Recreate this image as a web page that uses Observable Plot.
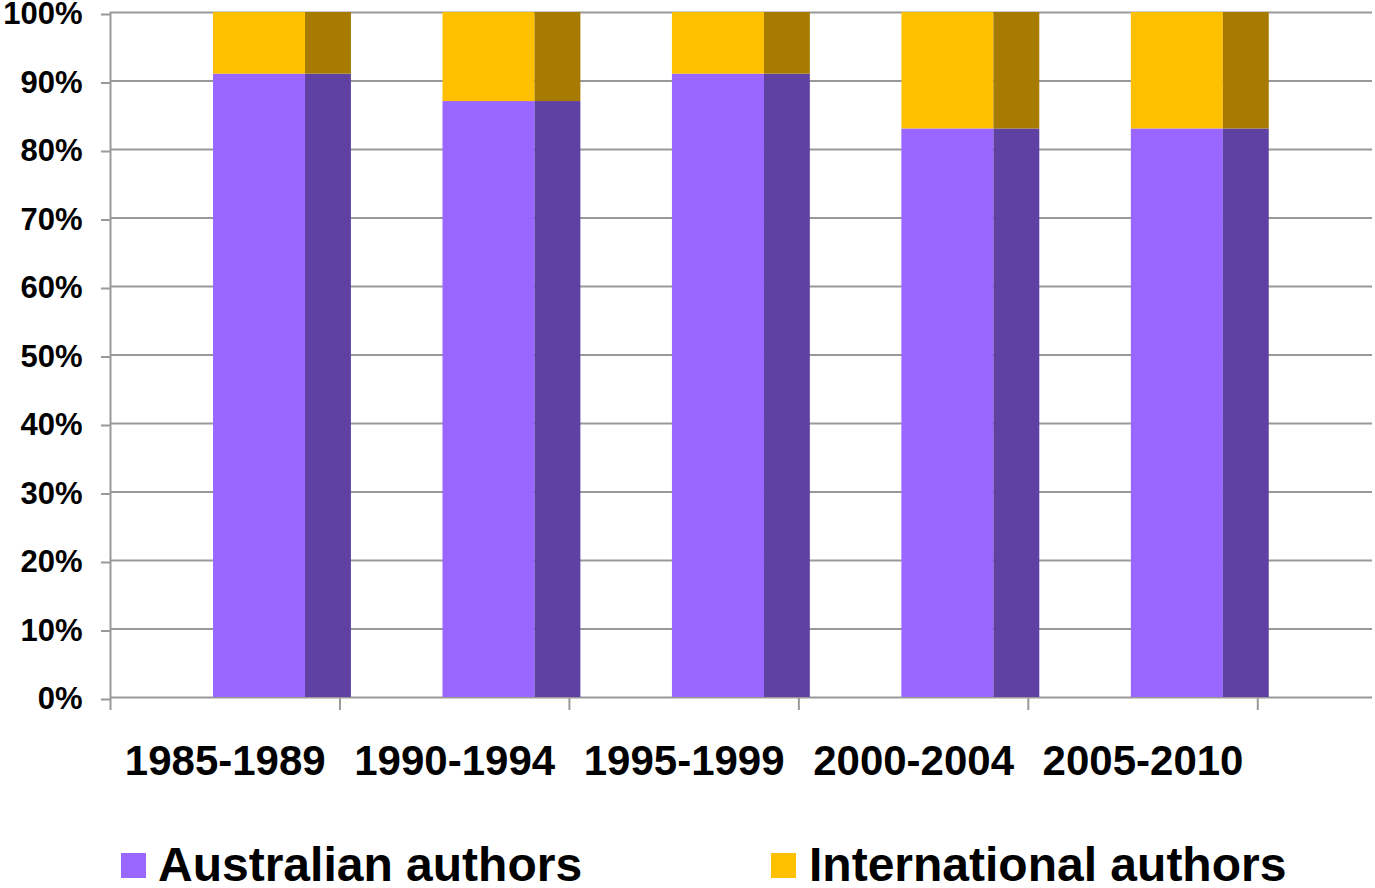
<!DOCTYPE html>
<html>
<head>
<meta charset="utf-8">
<script src="https://cdn.jsdelivr.net/npm/d3@7"></script>
<script src="https://cdn.jsdelivr.net/npm/@observablehq/plot@0.6"></script>
<style>
  html, body { margin: 0; padding: 0; background: #fff; }
  #wrap { position: relative; width: 1375px; height: 888px; overflow: hidden; font-family: "Liberation Sans", Arial, sans-serif; }
  .sw { position: absolute; width: 25px; height: 25px; top: 853px; }
  .lt { position: absolute; font-size: 48px; line-height: 40px; font-weight: bold; color: #000; top: 845px; white-space: nowrap; }
</style>
</head>
<body>
<div id="wrap"></div>
<script>
const periods = ["1985-1989", "1990-1994", "1995-1999", "2000-2004", "2005-2010"];
const australian = [91, 87, 91, 83, 83];
const international = [9, 13, 9, 17, 17];
const seriesNames = ["Australian authors", "International authors"];
const frontColors = ["#9966FF", "#FFC000"];
const sideColors = ["#5F41A3", "#A67B00"];
const yTicks = [0, 10, 20, 30, 40, 50, 60, 70, 80, 90, 100];

// build stacked rows
const rows = [];
periods.forEach((p, i) => {
  rows.push({i, period: p, s: 0, y1: 0, y2: australian[i]});
  rows.push({i, period: p, s: 1, y1: australian[i], y2: australian[i] + international[i]});
});

const F0 = 0.449, F1 = 0.85, F2 = 1.05; // bar front/side layout within band

const chart = Plot.plot({
  width: 1375,
  height: 800,
  marginTop: 12,
  marginBottom: 103,
  marginLeft: 110,
  marginRight: 3,
  style: {fontFamily: "'Liberation Sans', Arial, sans-serif", background: "#fff"},
  x: {domain: [0, 5.5], axis: null},
  y: {domain: [0, 100], axis: null},
  marks: [
    Plot.ruleY(yTicks, {stroke: "#999", strokeWidth: 2}),
    Plot.rect(rows, {x1: d => d.i + F0, x2: d => d.i + F1, y1: "y1", y2: "y2", fill: d => frontColors[d.s]}),
    Plot.rect(rows, {x1: d => d.i + F1, x2: d => d.i + F2, y1: "y1", y2: "y2", fill: d => sideColors[d.s]}),
    Plot.axisY({ticks: yTicks, tickFormat: d => d + "%", tickSize: 9, tickPadding: 19, stroke: "#999", strokeWidth: 2, strokeOpacity: 1, fontSize: 31, fontWeight: "bold", fill: "#000", label: null, dy: 2}),
    Plot.ruleX([0], {y1: 0, y2: 100, stroke: "#999", strokeWidth: 2}),
    Plot.axisX({ticks: d3.range(periods.length + 1), tickSize: 13, tickFormat: () => "", stroke: "#999", strokeWidth: 2, strokeOpacity: 1, label: null}),
    Plot.text(periods, {x: (d, i) => i + 0.5, y: 0, dy: 64, text: d => d, fontSize: 42, fontWeight: "bold", fill: "#000"})
  ]
});

const wrap = document.getElementById("wrap");
wrap.appendChild(chart);
chart.style.position = "absolute";
chart.style.left = "0px";
chart.style.top = "0px";

const legendPos = [{sq: 121, tx: 158}, {sq: 771, tx: 809}];
seriesNames.forEach((name, k) => {
  const sw = document.createElement("div");
  sw.className = "sw";
  sw.style.left = legendPos[k].sq + "px";
  sw.style.background = frontColors[k];
  wrap.appendChild(sw);
  const t = document.createElement("div");
  t.className = "lt";
  t.style.left = legendPos[k].tx + "px";
  t.textContent = name;
  wrap.appendChild(t);
});
</script>
</body>
</html>
